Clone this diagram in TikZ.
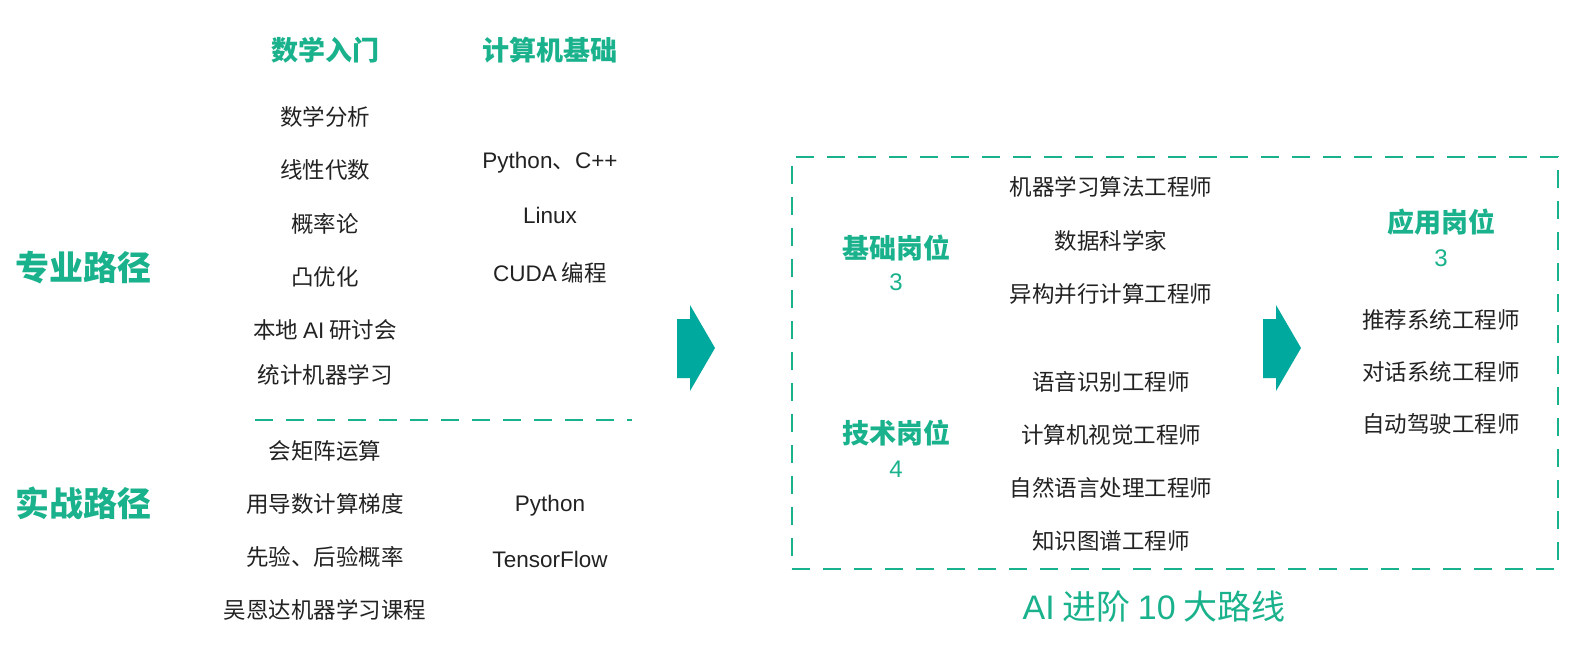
\documentclass[tikz,border=0pt]{standalone}
\usepackage{fontspec}
\setmainfont{Noto Sans CJK SC}
\newfontfamily\latin{Liberation Sans}
\usetikzlibrary{positioning}
\definecolor{pathgreen}{RGB}{26,178,140}
\definecolor{arrowteal}{RGB}{0,169,157}
\definecolor{itemgray}{RGB}{34,34,34}

\begin{document}
\begin{tikzpicture}[
    x=1pt, y=-1pt,
    node distance=12pt,
    itembox/.style={
        inner sep=0pt,
        font=\fontsize{22.5}{24}\selectfont,
        text=itemgray
    },
    headbox/.style={
        inner sep=0pt,
        font=\fontsize{27}{30}\selectfont\bfseries,
        text=pathgreen
    },
    pathbox/.style={
        inner sep=0pt,
        font=\fontsize{34}{38}\selectfont\bfseries,
        text=pathgreen
    },
    countbox/.style={
        inner sep=0pt,
        font=\fontsize{24}{26}\selectfont\latin,
        text=pathgreen
    },
    titlebox/.style={
        inner sep=0pt,
        font=\fontsize{34}{36}\selectfont,
        text=pathgreen
    },
    divider/.style={pathgreen, line width=2.6pt, dash pattern=on 18pt off 13pt},
    rolesbox/.style={
        draw=pathgreen,
        line width=2.6pt,
        dash pattern=on 18pt off 13pt,
        minimum width=766pt,
        minimum height=412pt
    },
    bigarrow/.pic={
        \fill[arrowteal] (-25,-29) -- (-12,-29) -- (-12,-43) -- (13,0)
            -- (-12,43) -- (-12,30) -- (-25,30) -- cycle;
    }
]
\useasboundingbox[fill=white] (0,0) rectangle (1579,668);

% --- PATHS ---
\node[pathbox] (pro) at (84,268) {专业路径};
\node[pathbox] (prac) at (84,503) {实战路径};

% --- MATH COLUMN ---
\node[headbox] (math) at (325,50) {数学入门};
\node[itembox] (analysis) at (325,117) {数学分析};
\node[itembox] (linalg) at (325,170) {线性代数};
\node[itembox] (prob) at (325,224) {概率论};
\node[itembox] (convex) at (325,277) {凸优化};
\node[itembox] (seminar) at (325,330) {本地 {\latin AI} 研讨会};
\node[itembox] (statml) at (325,375) {统计机器学习};

\draw[divider] (255,420) -- (632,420);

\node[itembox] (matrix) at (325,451) {会矩阵运算};
\node[itembox] (grad) at (325,504) {用导数计算梯度};
\node[itembox] (bayes) at (325,557) {先验、后验概率};
\node[itembox] (ngcourse) at (325,610) {吴恩达机器学习课程};

% --- CS COLUMN ---
\node[headbox] (cs) at (550,50) {计算机基础};
\node[itembox] (pycpp) at (550,163) {{\latin Python}、{\latin C++}};
\node[itembox] (linux) at (550,215) {\latin Linux};
\node[itembox] (cuda) at (550,273) {{\latin CUDA} 编程};
\node[itembox] (python) at (550,506) {\latin Python};
\node[itembox] (tf) at (550,559) {\latin TensorFlow};

% --- ARROWS ---
\pic at (702,348) {bigarrow};
\pic at (1288,348) {bigarrow};

% --- ROLES ---
\node[rolesbox] (roles) at (1175,363) {};

\node[headbox] (basic) at (896,248) {基础岗位};
\node[countbox, below=of basic] (basicnum) {3};
\node[headbox] (tech) at (896,433) {技术岗位};
\node[countbox, below=14pt of tech] (technum) {4};

\node[itembox] (mleng) at (1111,187) {机器学习算法工程师};
\node[itembox] (datasci) at (1111,241) {数据科学家};
\node[itembox] (hetero) at (1111,294) {异构并行计算工程师};
\node[itembox] (speech) at (1111,382) {语音识别工程师};
\node[itembox] (vision) at (1111,435) {计算机视觉工程师};
\node[itembox] (nlp) at (1111,488) {自然语言处理工程师};
\node[itembox] (kg) at (1111,541) {知识图谱工程师};

\node[headbox] (apply) at (1441,222) {应用岗位};
\node[countbox, below=14pt of apply] (applynum) {3};
\node[itembox] (recsys) at (1441,320) {推荐系统工程师};
\node[itembox] (dialog) at (1441,372) {对话系统工程师};
\node[itembox] (drive) at (1441,424) {自动驾驶工程师};

\node[titlebox] (title) at (1154,607)
{{\latin AI} 进阶 {\latin 10} 大路线};

\end{tikzpicture}
\end{document}
